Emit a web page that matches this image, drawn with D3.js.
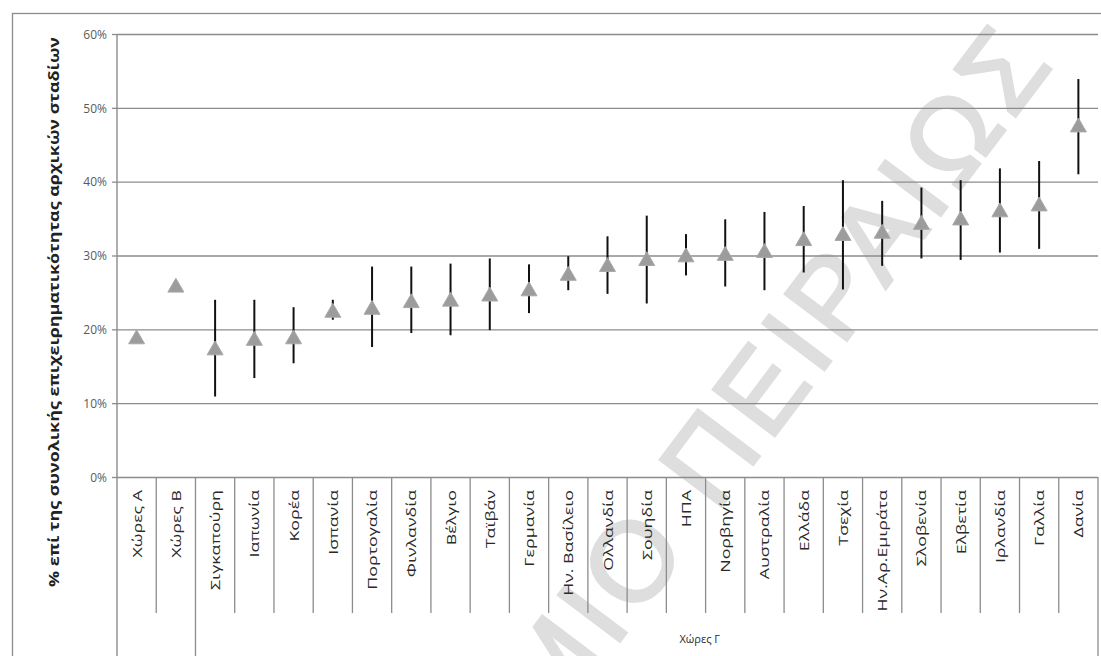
<!DOCTYPE html>
<html>
<head>
<meta charset="utf-8">
<title>Αρχικά στάδια επιχειρηματικότητας</title>
<script src="https://d3js.org/d3.v7.min.js"></script>
<style>
  body { margin: 0; background: #fff; font-family: "Open Sans", sans-serif; }
  svg { display: block; }
</style>
</head>
<body>
<svg width="1101" height="656"></svg>
<script>
// categories along the x axis
const categories = [
  "Χώρες Α", "Χώρες Β", "Σιγκαπούρη", "Ιαπωνία", "Κορέα", "Ισπανία",
  "Πορτογαλία", "Φινλανδία", "Βέλγιο", "Ταϊβάν", "Γερμανία", "Ην. Βασίλειο",
  "Ολλανδία", "Σουηδία", "ΗΠΑ", "Νορβηγία", "Αυστραλία", "Ελλάδα", "Τσεχία",
  "Ην.Αρ.Εμιράτα", "Σλοβενία", "Ελβετία", "Ιρλανδία", "Γαλλία", "Δανία"
];
// second level of the axis: [label, first index, last index]
const groups = [["", 0, 1], ["Χώρες Γ", 2, 24]];

// % values
const values = [18.8, 25.8, 17.3, 18.6, 18.8, 22.4, 22.8, 23.7, 23.9, 24.6, 25.3, 27.4,
  28.6, 29.4, 29.9, 30.1, 30.5, 32.1, 32.8, 33.1, 34.3, 34.9, 36.0, 36.8, 47.5];
const lows = [null, null, 10.9, 13.4, 15.4, 21.3, 17.6, 19.5, 19.2, 19.9, 22.2, 25.3,
  24.8, 23.5, 27.3, 25.8, 25.3, 27.7, 25.4, 28.6, 29.6, 29.4, 30.4, 30.9, 41.0];
const highs = [null, null, 24.0, 24.0, 23.0, 24.0, 28.5, 28.5, 28.9, 29.6, 28.8, 29.9,
  32.6, 35.4, 32.9, 34.9, 35.9, 36.7, 40.2, 37.4, 39.2, 40.2, 41.8, 42.8, 53.9];
const yTicks = [0, 10, 20, 30, 40, 50, 60];

const yTitle = "% επί της συνολικής επιχειρηματικότητας αρχικών σταδίων";
const watermark = "ΠΑΝΕΠΙΣΤΗΜΙΟ ΠΕΙΡΑΙΩΣ";

const plotLeft = 117, plotRight = 1098, plotTop = 34, base = 477, catBottom = 613, H = 656;

const svg = d3.select("svg");

const x = d3.scaleBand().domain(categories).range([plotLeft, plotRight]);
const y = d3.scaleLinear().domain([0, 60]).range([base, plotTop]);

// outer chart border
svg.append("rect")
  .attr("x", 12.5).attr("y", 13.5)
  .attr("width", 1200).attr("height", 800)
  .attr("fill", "none").attr("stroke", "#8c8c8c").attr("stroke-width", 1.3);

// watermark behind the chart
svg.append("text")
  .attr("transform", "translate(1058,60) rotate(-53)")
  .attr("text-anchor", "end")
  .attr("font-family", "Liberation Sans")
  .attr("font-size", 112)
  .attr("letter-spacing", 7)
  .attr("fill", "#dedede")
  .attr("stroke", "#dedede")
  .attr("stroke-width", 3)
  .text(watermark);

// gridlines
svg.append("g")
  .attr("transform", `translate(${plotLeft},0)`)
  .call(d3.axisLeft(y).tickValues(yTicks).tickSize(-(plotRight - plotLeft)).tickFormat(""))
  .call(g => g.select(".domain").remove())
  .call(g => g.selectAll("line").attr("stroke", "#8c8c8c").attr("stroke-width", 1.4));

// y axis with outer ticks
svg.append("g")
  .attr("transform", `translate(${plotLeft},0)`)
  .call(d3.axisLeft(y).tickValues(yTicks).tickSize(5).tickPadding(5).tickFormat(d => d + "%"))
  .call(g => g.select(".domain").remove())
  .call(g => g.selectAll("line").attr("stroke", "#8c8c8c").attr("stroke-width", 1.3))
  .call(g => g.selectAll("text")
    .attr("font-family", "Open Sans").attr("font-size", 12)
    .attr("fill", "#5a5a5a").attr("dy", "0.36em"));

// left axis line, down through the category area
svg.append("line")
  .attr("x1", plotLeft).attr("x2", plotLeft).attr("y1", plotTop).attr("y2", H)
  .attr("stroke", "#8c8c8c").attr("stroke-width", 1.4);

// category separators
const groupEdges = new Set();
groups.forEach(g => { groupEdges.add(g[1]); groupEdges.add(g[2] + 1); });
const edges = d3.range(1, categories.length + 1);
svg.append("g").selectAll("line")
  .data(edges)
  .join("line")
  .attr("x1", i => plotLeft + i * x.step())
  .attr("x2", i => plotLeft + i * x.step())
  .attr("y1", base)
  .attr("y2", i => groupEdges.has(i) ? H : catBottom)
  .attr("stroke", "#8c8c8c").attr("stroke-width", 1.3);

// category labels, rotated
const labels = svg.append("g").selectAll("text")
  .data(categories)
  .join("text")
  .attr("font-family", "Open Sans")
  .attr("font-size", 13.5)
  .attr("fill", "#2a2a2a")
  .attr("text-anchor", "end")
  .text(d => d);
const refLen = labels.filter(d => d === "Σιγκαπούρη").node().getComputedTextLength();
const stretch = 100 / refLen;
labels.attr("transform", d =>
  `translate(${x(d) + x.bandwidth() / 2 + 5},${base + 13}) rotate(-90) scale(${stretch},1)`);

// group labels
svg.append("g").selectAll("text")
  .data(groups.filter(g => g[0]))
  .join("text")
  .attr("x", g => plotLeft + (g[1] + g[2] + 1) / 2 * x.step() + 53)
  .attr("y", 643)
  .attr("text-anchor", "middle")
  .attr("font-family", "Open Sans")
  .attr("font-size", 11)
  .attr("fill", "#2a2a2a")
  .text(g => g[0]);

// y axis title
svg.append("text")
  .attr("transform", `translate(59,${(37 + 587) / 2}) rotate(-90)`)
  .attr("text-anchor", "middle")
  .attr("font-family", "Open Sans")
  .attr("font-weight", "bold")
  .attr("font-size", 14)
  .attr("textLength", 550)
  .attr("lengthAdjust", "spacingAndGlyphs")
  .attr("fill", "#222")
  .text(yTitle);

// error bars
const pts = categories.map((c, i) => ({ c, v: values[i], lo: lows[i], hi: highs[i] }));
svg.append("g").selectAll("line")
  .data(pts.filter(p => p.lo !== null))
  .join("line")
  .attr("x1", p => x(p.c) + x.bandwidth() / 2)
  .attr("x2", p => x(p.c) + x.bandwidth() / 2)
  .attr("y1", p => y(p.lo))
  .attr("y2", p => y(p.hi))
  .attr("stroke", "#111").attr("stroke-width", 2);

// triangle markers
svg.append("g").selectAll("path")
  .data(pts)
  .join("path")
  .attr("d", d3.symbol(d3.symbolTriangle, 110))
  .attr("transform", p => `translate(${x(p.c) + x.bandwidth() / 2},${y(p.v) + 1})`)
  .attr("fill", "#9c9c9c")
  .attr("stroke", "#a8a8a8").attr("stroke-width", 1);
</script>
</body>
</html>
